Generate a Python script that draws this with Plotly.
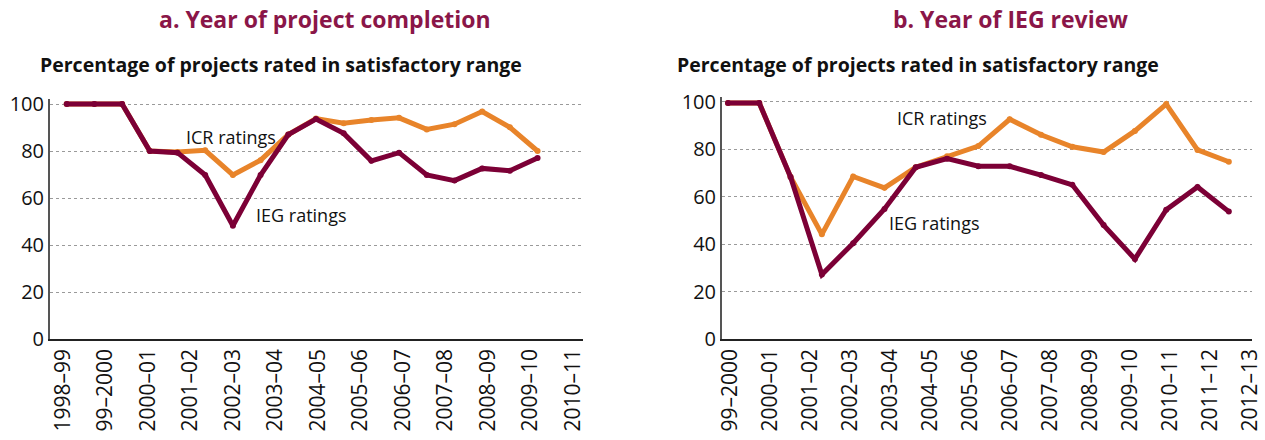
import plotly.graph_objects as go

# ---- data ----
labels_a = ["1998–99", "99–2000", "2000–01", "2001–02", "2002–03", "2003–04", "2004–05",
            "2005–06", "2006–07", "2007–08", "2008–09", "2009–10", "2010–11"]
ieg_a = [100, 100, 100, 80, 79.3, 69.8, 48.2, 69.8, 87, 93.6, 87.5, 75.8, 79.3, 69.8, 67.4, 72.6, 71.6, 77]
icr_a = [100, 100, 100, 80, 79.6, 80.3, 69.8, 76.1, 87, 93.8, 91.8, 93.2, 94.1, 89.2, 91.4, 96.8, 90.1, 80]

labels_b = ["99–2000", "2000–01", "2001–02", "2002–03", "2003–04", "2004–05", "2005–06",
            "2006–07", "2007–08", "2008–09", "2009–10", "2010–11", "2011–12", "2012–13"]
ieg_b = [99.5, 99.5, 68.3, 27.2, 40.4, 54.8, 72.4, 76, 72.8, 72.8, 69.1, 65, 48, 33.7, 54.5, 64.1, 53.7]
icr_b = [99.5, 99.5, 68.3, 44.1, 68.5, 63.7, 72.4, 77, 81.3, 92.6, 86.1, 81, 78.8, 87.7, 99, 79.7, 74.7]

y_ticks = [0, 20, 40, 60, 80, 100]

IEG_COLOR = "#7c0036"
ICR_COLOR = "#e8842a"
TITLE_COLOR = "#8a1648"
FONT = "Open Sans"
W, H = 1265, 440

fig = go.Figure()

def add_panel(ieg, icr, labels, xd, xl, yax, xdom, ydom, xr_data, xr_lab):
    idx = list(range(len(ieg)))
    fig.add_trace(go.Scatter(x=idx, y=icr, mode="lines+markers", xaxis=xd, yaxis=yax,
                             line=dict(color=ICR_COLOR, width=5), marker=dict(size=6, color=ICR_COLOR),
                             showlegend=False, hoverinfo="skip"))
    fig.add_trace(go.Scatter(x=idx, y=ieg, mode="lines+markers", xaxis=xd, yaxis=yax,
                             line=dict(color=IEG_COLOR, width=5), marker=dict(size=6, color=IEG_COLOR),
                             showlegend=False, hoverinfo="skip"))
    fig.add_trace(go.Scatter(x=labels, y=[None] * len(labels), mode="markers", xaxis=xl, yaxis=yax,
                             showlegend=False, hoverinfo="skip"))
    dkey = "xaxis" + xd[1:]
    lkey = "xaxis" + xl[1:]
    ykey = "yaxis" + yax[1:]
    fig.update_layout({
        dkey: dict(domain=xdom, range=xr_data, visible=False, anchor=yax, fixedrange=True),
        lkey: dict(domain=xdom, range=xr_lab, type="category", overlaying=xd, anchor=yax,
                   showline=True, linecolor="#222222", linewidth=1.5, showgrid=False,
                   tickangle=-90, ticks="", tickfont=dict(family=FONT, size=21, color="#111111")),
        ykey: dict(domain=ydom, range=[0, 102], tickvals=y_ticks, showgrid=True,
                   gridcolor="#9a9a9a", griddash="dot", gridwidth=1, zeroline=False,
                   showline=True, linecolor="#555555", linewidth=2, ticks="",
                   anchor=xl, tickfont=dict(family=FONT, size=20, color="#111111")),
    })

add_panel(ieg_a, icr_a, labels_a, "x", "x3", "y",
          [50 / W, 583 / W], [101 / H, 340.7 / H], [-0.603, 18.64], [-0.306, 12.235])
add_panel(ieg_b, icr_b, labels_b, "x2", "x4", "y2",
          [722 / W, 1252 / W], [101 / H, 343 / H], [-0.19, 16.74], [-0.2, 13.05])

ann = [
    dict(text="<b>a. Year of project completion</b>", x=325 / W, y=1 - 19 / H,
         xanchor="center", yanchor="middle", font=dict(size=23, color=TITLE_COLOR)),
    dict(text="<b>Percentage of projects rated in satisfactory range</b>", x=38 / W, y=1 - 64 / H,
         xanchor="left", yanchor="middle", font=dict(size=19.5, color="#111111")),
    dict(text="<b>b. Year of IEG review</b>", x=1010 / W, y=1 - 19 / H,
         xanchor="center", yanchor="middle", font=dict(size=23, color=TITLE_COLOR)),
    dict(text="<b>Percentage of projects rated in satisfactory range</b>", x=675 / W, y=1 - 64 / H,
         xanchor="left", yanchor="middle", font=dict(size=19.5, color="#111111")),
]
for a in ann:
    a.update(xref="paper", yref="paper", showarrow=False)
    a["font"]["family"] = FONT

lab = [
    dict(text="ICR ratings", x=5.93, y=86, xref="x", yref="y"),
    dict(text="IEG ratings", x=8.46, y=52.8, xref="x", yref="y"),
    dict(text="ICR ratings", x=6.84, y=93, xref="x2", yref="y2"),
    dict(text="IEG ratings", x=6.6, y=49, xref="x2", yref="y2"),
]
for a in lab:
    a.update(showarrow=False, xanchor="center", yanchor="middle",
             font=dict(family=FONT, size=18, color="#111111"))

fig.update_layout(
    width=W, height=H,
    margin=dict(l=0, r=0, t=0, b=0, autoexpand=False),
    paper_bgcolor="white", plot_bgcolor="white",
    annotations=ann + lab,
    font=dict(family=FONT),
)

fig.write_html("out.html",
               config={"displayModeBar": False, "staticPlot": True},
               post_script="document.body.style.margin='0';document.body.style.overflow='hidden';")
